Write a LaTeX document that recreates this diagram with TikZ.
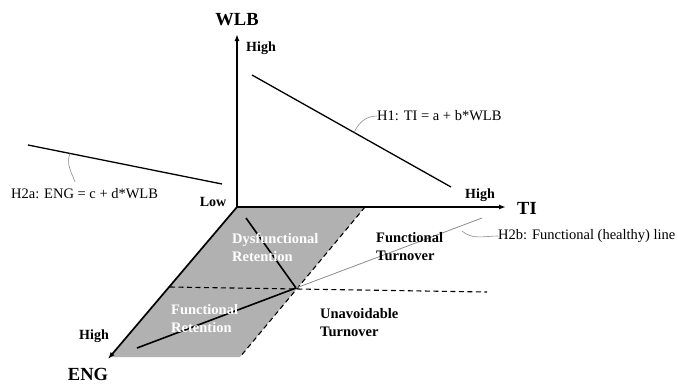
\documentclass[tikz,border=0pt]{standalone}
\usepackage{fontspec}
\setmainfont{Liberation Serif}
\usetikzlibrary{arrows.meta,positioning}
\definecolor{zonegray}{RGB}{178,177,177}
\definecolor{leadgray}{RGB}{140,140,140}

\begin{document}
\begin{tikzpicture}[x=1pt,y=-1pt,>={Latex[length=7pt,width=5pt]},
    axis/.style={line width=1.7pt},
    hypline/.style={line width=1.3pt},
    bound/.style={line width=1.1pt,dash pattern=on 5pt off 3.5pt},
    lead/.style={leadgray,line width=0.6pt},
    axlabel/.style={font=\fontsize{18.5}{20}\selectfont\bfseries,inner sep=0pt},
    tick/.style={font=\fontsize{14}{16}\selectfont\bfseries,inner sep=0pt},
    zone/.style={font=\fontsize{14.5}{18}\selectfont\bfseries,align=left,anchor=west,inner sep=0pt},
    eq/.style={font=\fontsize{14.5}{16}\selectfont,anchor=west,inner sep=0pt}]
  \useasboundingbox (0,0) rectangle (678,384);
  % axes end points
  \coordinate (O) at (237,207);
  \coordinate (wlbend) at (237,34);
  \coordinate (tiend) at (506,207);
  \coordinate (engend) at (108,359);
  % shaded plane
  \coordinate (p1) at (365,207);
  \coordinate (p2) at (240,357);
  \coordinate (p3) at (110,357);
  \fill[zonegray] (O) -- (p1) -- (p2) -- (p3) -- cycle;
  \draw[bound] (p1) -- (p2);
  \coordinate (mid) at (170,287);
  \coordinate (midend) at (487,292);
  \draw[bound] (mid) -- (midend);
  % retention / turnover lines
  \coordinate (ka) at (246,218);
  \coordinate (K) at (296,288);
  \coordinate (kb) at (137,348);
  \draw[hypline,line width=1.6pt] (ka) -- (K) -- (kb);
  \coordinate (hb) at (482,218);
  \draw[leadgray,line width=0.8pt] (K) -- (hb);
  % axes
  \draw[axis,->] (O) -- (wlbend);
  \draw[axis,->] (O) -- (tiend);
  \draw[axis,->] (O) -- (engend);
  \node[axlabel] (wlb) at (237,20) {WLB};
  \node[axlabel] (ti) at (527,208) {TI};
  \node[axlabel] (eng) at (88,374) {ENG};
  \node[tick] (wlbhigh) at (261,48) {High};
  \node[tick] (tihigh) at (480,195) {High};
  \node[tick] (enghigh) at (94,336) {High};
  \node[tick] (low) at (213,202) {Low};
  % hypotheses
  \coordinate (h1a) at (252,75);
  \coordinate (h1b) at (451,187);
  \draw[hypline] (h1a) -- (h1b) coordinate[pos=0.513] (h1p);
  \node[eq] (h1) at (377,116) {H1: TI = a + b*WLB};
  \draw[lead] (h1p) to[out=65,in=180] (h1.west);
  \coordinate (h2a1) at (28,145);
  \coordinate (h2a2) at (222,184);
  \draw[hypline] (h2a1) -- (h2a2) coordinate[pos=0.216] (h2ap);
  \node[eq] (h2a) at (11,194) {H2a: ENG = c + d*WLB};
  \coordinate (h2aq) at (75,182);
  \draw[lead] (h2ap) to[out=-110,in=110] (h2aq);
  \node[eq] (h2b) at (498,236) {H2b: Functional (healthy) line};
  \coordinate (h2bp) at (462,231);
  \draw[lead] (h2bp) to[out=-40,in=180] (h2b.west);
  % zone labels
  \node[zone,white] (dysret) at (232,247) {Dysfunctional\\Retention};
  \node[zone,white] (funret) at (171,319) {Functional\\Retention};
  \node[zone] (funturn) at (376,247) {Functional\\Turnover};
  \node[zone] (unturn) at (320,323) {Unavoidable\\Turnover};
\end{tikzpicture}
\end{document}
